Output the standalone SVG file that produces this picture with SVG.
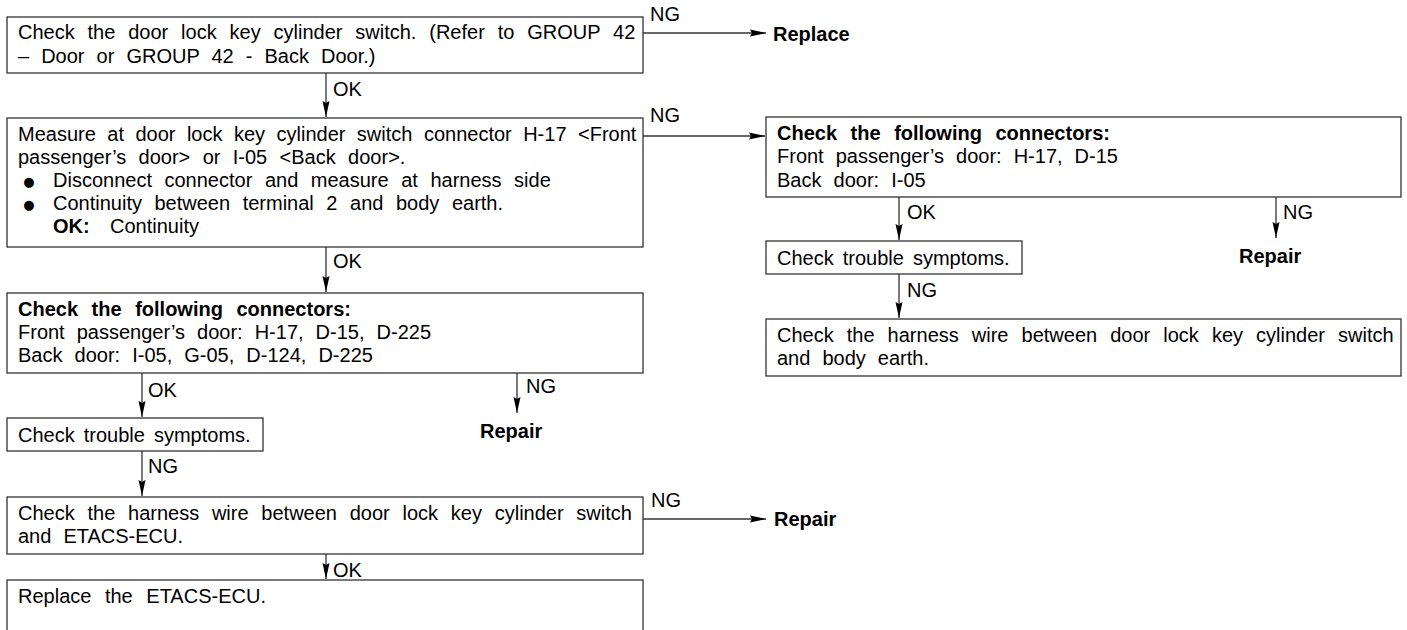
<svg xmlns="http://www.w3.org/2000/svg" width="1407" height="630" viewBox="0 0 1407 630">
<defs>
<style>
.box{fill:#fff;stroke:#333;stroke-width:1.3}
.t{font-family:"Liberation Sans",Arial,Helvetica,sans-serif;font-size:20px;fill:#000;word-spacing:6.5px}
.b{font-weight:bold}
.lbl{font-family:"Liberation Sans",Arial,Helvetica,sans-serif;font-size:20px;fill:#000}
.bul{font-family:"DejaVu Sans",sans-serif;font-size:13px;fill:#000}
.c{fill:none;stroke:#333;stroke-width:1.3;marker-end:url(#ah)}
</style>
<marker id="ah" markerUnits="userSpaceOnUse" markerWidth="17" markerHeight="8" refX="16" refY="4" orient="auto">
<path d="M0,0.5 L16,4 L0,7.5 L2,4 z" fill="#000"/>
</marker>
</defs>
<rect width="1407" height="630" fill="#fff"/>

<g id="connectors">
<line class="c" x1="643" y1="33" x2="766" y2="33"/>
<text class="lbl" x="650" y="21">NG</text>
<line class="c" x1="326" y1="73" x2="326" y2="117"/>
<text class="lbl" x="333" y="96">OK</text>
<line class="c" x1="643" y1="136" x2="765" y2="136"/>
<text class="lbl" x="650" y="122">NG</text>
<line class="c" x1="326" y1="247" x2="326" y2="292"/>
<text class="lbl" x="333" y="268">OK</text>
<line class="c" x1="142" y1="373" x2="142" y2="417"/>
<text class="lbl" x="148" y="397">OK</text>
<line class="c" x1="517" y1="373" x2="517" y2="413"/>
<text class="lbl" x="526" y="393">NG</text>
<line class="c" x1="142" y1="451" x2="142" y2="496"/>
<text class="lbl" x="148" y="473">NG</text>
<line class="c" x1="643" y1="519" x2="766" y2="519"/>
<text class="lbl" x="651" y="507">NG</text>
<line class="c" x1="326" y1="554" x2="326" y2="579"/>
<text class="lbl" x="333" y="577">OK</text>
<line class="c" x1="899" y1="197" x2="899" y2="240"/>
<text class="lbl" x="907" y="219">OK</text>
<line class="c" x1="1276" y1="197" x2="1276" y2="238"/>
<text class="lbl" x="1283" y="219">NG</text>
<line class="c" x1="899" y1="274" x2="899" y2="318"/>
<text class="lbl" x="907" y="297">NG</text>
</g>

<g id="n1">
<rect class="box" x="7" y="17" width="636" height="56"/>
<text class="t" x="18" y="39" style="word-spacing:7.3px">Check the door lock key cylinder switch. (Refer to GROUP 42</text>
<text class="t" x="18" y="63">– Door or GROUP 42 - Back Door.)</text>
</g>

<g id="replace1">
<text class="lbl b" x="773" y="41">Replace</text>
</g>

<g id="n2">
<rect class="box" x="7" y="118" width="636" height="129"/>
<text class="t" x="18" y="141" style="word-spacing:5.9px">Measure at door lock key cylinder switch connector H-17 &lt;Front</text>
<text class="t" x="18" y="164" style="word-spacing:6.8px">passenger’s door&gt; or I-05 &lt;Back door&gt;.</text>
<text class="bul" x="29" y="186" text-anchor="middle">●</text>
<text class="t" x="53" y="187" style="word-spacing:7px">Disconnect connector and measure at harness side</text>
<text class="bul" x="29" y="209" text-anchor="middle">●</text>
<text class="t" x="53" y="210" style="word-spacing:7px">Continuity between terminal 2 and body earth.</text>
<text class="t b" x="53" y="233">OK:</text>
<text class="t" x="110" y="233">Continuity</text>
</g>

<g id="n3">
<rect class="box" x="7" y="293" width="636" height="80"/>
<text class="t b" x="18" y="316" style="word-spacing:8px">Check the following connectors:</text>
<text class="t" x="18" y="339">Front passenger’s door: H-17, D-15, D-225</text>
<text class="t" x="18" y="362">Back door: I-05, G-05, D-124, D-225</text>
</g>

<g id="repair1">
<text class="lbl b" x="480" y="438">Repair</text>
</g>

<g id="n4">
<rect class="box" x="7" y="418" width="256" height="33"/>
<text class="t" x="18" y="442" style="word-spacing:3.5px">Check trouble symptoms.</text>
</g>

<g id="n5">
<rect class="box" x="7" y="497" width="636" height="57"/>
<text class="t" x="18" y="520" style="word-spacing:7.2px">Check the harness wire between door lock key cylinder switch</text>
<text class="t" x="18" y="543">and ETACS-ECU.</text>
</g>

<g id="repair2">
<text class="lbl b" x="774" y="526">Repair</text>
</g>

<g id="n6">
<rect class="box" x="7" y="580" width="636" height="60"/>
<text class="t" x="18" y="603" style="word-spacing:8px">Replace the ETACS-ECU.</text>
</g>

<g id="r1">
<rect class="box" x="766" y="117" width="635" height="80"/>
<text class="t b" x="777" y="140" style="word-spacing:8px">Check the following connectors:</text>
<text class="t" x="777" y="163">Front passenger’s door: H-17, D-15</text>
<text class="t" x="777" y="187">Back door: I-05</text>
</g>

<g id="repair3">
<text class="lbl b" x="1239" y="263">Repair</text>
</g>

<g id="r2">
<rect class="box" x="766" y="241" width="256" height="33"/>
<text class="t" x="777" y="265" style="word-spacing:3.5px">Check trouble symptoms.</text>
</g>

<g id="r3">
<rect class="box" x="766" y="319" width="635" height="57"/>
<text class="t" x="777" y="342" style="word-spacing:7.5px">Check the harness wire between door lock key cylinder switch</text>
<text class="t" x="777" y="365">and body earth.</text>
</g>
</svg>
